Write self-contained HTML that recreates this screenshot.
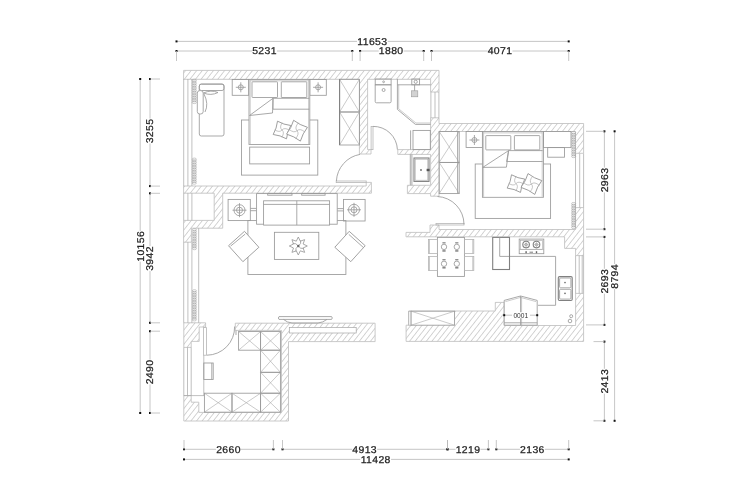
<!DOCTYPE html>
<html><head><meta charset="utf-8"><style>
html,body{margin:0;padding:0;background:#fff;}
svg{display:block;filter:grayscale(1);}
.w{fill:url(#h);stroke:#bdbdbd;stroke-width:0.8;}
.wo{stroke:#bdbdbd;stroke-width:0.8;}
.wo2{fill:#fff;stroke:#a5a5a5;stroke-width:0.7;}
.f{fill:none;stroke:#999;stroke-width:0.85;}
.ch{fill:none;stroke:#b5b5b5;stroke-width:0.8;}
.fk{fill:none;stroke:#808080;stroke-width:1.1;}
.fx{fill:none;stroke:#a8a8a8;stroke-width:0.6;}
.ff{fill:#fff;stroke:#999;stroke-width:0.85;}
.wn{fill:none;stroke:#a5a5a5;stroke-width:0.7;}
.cz{fill:none;stroke:#9a9a9a;stroke-width:0.5;}
.d{stroke:#b8b8b8;stroke-width:0.8;}
.dt{fill:#111;}
.dk{fill:#666;}
.kn{fill:#fff;}
.t{font-family:"Liberation Sans",sans-serif;font-size:9.85px;fill:#1e1e1e;text-anchor:middle;letter-spacing:0.35px;text-rendering:geometricPrecision;stroke:#1e1e1e;stroke-width:0.25px;}
.t2{font-family:"Liberation Sans",sans-serif;font-size:6.6px;fill:#333;text-anchor:middle;}
</style></head><body>
<svg width="740" height="500" viewBox="0 0 740 500">
<defs><pattern id="h" patternUnits="userSpaceOnUse" width="4.4" height="4.4" patternTransform="rotate(38)"><line x1="0" y1="-1" x2="0" y2="5.4" stroke="#959595" stroke-width="0.8"/></pattern></defs>
<rect width="740" height="500" fill="#fff"/>
<line class="d" x1="176.5" y1="41.4" x2="568.7" y2="41.4"/>
<rect class="dt" x="175.5" y="40.4" width="2" height="2"/>
<rect class="dt" x="567.7" y="40.4" width="2" height="2"/>
<rect class="kn" x="357.02" y="38.9" width="30.75" height="5"/>
<text transform="translate(372.4 41.4) scale(1.06 1)" x="0" y="3.45" class="t">11653</text>
<line class="d" x1="176.5" y1="51" x2="352.3" y2="51"/>
<rect class="dt" x="175.5" y="50" width="2" height="2"/>
<rect class="dt" x="351.3" y="50" width="2" height="2"/>
<line class="d" x1="176.5" y1="51" x2="176.5" y2="61"/>
<line class="d" x1="352.3" y1="51" x2="352.3" y2="61"/>
<rect class="kn" x="252.05" y="48.5" width="24.9" height="5"/>
<text transform="translate(264.5 51) scale(1.06 1)" x="0" y="3.45" class="t">5231</text>
<line class="d" x1="360.1" y1="51" x2="423.7" y2="51"/>
<rect class="dt" x="359.1" y="50" width="2" height="2"/>
<rect class="dt" x="422.7" y="50" width="2" height="2"/>
<line class="d" x1="360.1" y1="51" x2="360.1" y2="61"/>
<line class="d" x1="423.7" y1="51" x2="423.7" y2="61"/>
<rect class="kn" x="378.75" y="48.5" width="24.9" height="5"/>
<text transform="translate(391.2 51) scale(1.06 1)" x="0" y="3.45" class="t">1880</text>
<line class="d" x1="431.5" y1="51" x2="568.7" y2="51"/>
<rect class="dt" x="430.5" y="50" width="2" height="2"/>
<rect class="dt" x="567.7" y="50" width="2" height="2"/>
<line class="d" x1="431.5" y1="51" x2="431.5" y2="61"/>
<line class="d" x1="568.7" y1="51" x2="568.7" y2="61"/>
<rect class="kn" x="487.55" y="48.5" width="24.9" height="5"/>
<text transform="translate(500 51) scale(1.06 1)" x="0" y="3.45" class="t">4071</text>
<line class="d" x1="184" y1="449.3" x2="273.4" y2="449.3"/>
<rect class="dt" x="183" y="448.3" width="2" height="2"/>
<rect class="dt" x="272.4" y="448.3" width="2" height="2"/>
<line class="d" x1="184" y1="440" x2="184" y2="449.3"/>
<line class="d" x1="273.4" y1="440" x2="273.4" y2="449.3"/>
<rect class="kn" x="216.05" y="446.8" width="24.9" height="5"/>
<text transform="translate(228.5 449.3) scale(1.06 1)" x="0" y="3.45" class="t">2660</text>
<line class="d" x1="282.5" y1="449.3" x2="447.5" y2="449.3"/>
<rect class="dt" x="281.5" y="448.3" width="2" height="2"/>
<rect class="dt" x="446.5" y="448.3" width="2" height="2"/>
<line class="d" x1="282.5" y1="440" x2="282.5" y2="449.3"/>
<line class="d" x1="447.5" y1="440" x2="447.5" y2="449.3"/>
<rect class="kn" x="352.25" y="446.8" width="24.9" height="5"/>
<text transform="translate(364.7 449.3) scale(1.06 1)" x="0" y="3.45" class="t">4913</text>
<line class="d" x1="447.5" y1="449.3" x2="488.4" y2="449.3"/>
<rect class="dt" x="446.5" y="448.3" width="2" height="2"/>
<rect class="dt" x="487.4" y="448.3" width="2" height="2"/>
<line class="d" x1="447.5" y1="440" x2="447.5" y2="449.3"/>
<line class="d" x1="488.4" y1="440" x2="488.4" y2="449.3"/>
<rect class="kn" x="455.55" y="446.8" width="24.9" height="5"/>
<text transform="translate(468 449.3) scale(1.06 1)" x="0" y="3.45" class="t">1219</text>
<line class="d" x1="496.3" y1="449.3" x2="568.7" y2="449.3"/>
<rect class="dt" x="495.3" y="448.3" width="2" height="2"/>
<rect class="dt" x="567.7" y="448.3" width="2" height="2"/>
<line class="d" x1="496.3" y1="440" x2="496.3" y2="449.3"/>
<line class="d" x1="568.7" y1="440" x2="568.7" y2="449.3"/>
<rect class="kn" x="519.95" y="446.8" width="24.9" height="5"/>
<text transform="translate(532.4 449.3) scale(1.06 1)" x="0" y="3.45" class="t">2136</text>
<line class="d" x1="184" y1="459.4" x2="568.7" y2="459.4"/>
<rect class="dt" x="183" y="458.4" width="2" height="2"/>
<rect class="dt" x="567.7" y="458.4" width="2" height="2"/>
<rect class="kn" x="360.32" y="456.9" width="30.75" height="5"/>
<text transform="translate(375.7 459.4) scale(1.06 1)" x="0" y="3.45" class="t">11428</text>
<line class="d" x1="140.2" y1="79" x2="140.2" y2="413"/>
<rect class="dt" x="139.2" y="78" width="2" height="2"/>
<rect class="dt" x="139.2" y="412" width="2" height="2"/>
<rect class="kn" x="137.7" y="230.93" width="5" height="30.75"/>
<text transform="translate(140.2 246.3) rotate(-90) scale(1.06 1)" x="0" y="3.45" class="t">10156</text>
<line class="d" x1="150" y1="79" x2="150" y2="186.1"/>
<rect class="dt" x="149" y="78" width="2" height="2"/>
<rect class="dt" x="149" y="185.1" width="2" height="2"/>
<line class="d" x1="150" y1="79" x2="160" y2="79"/>
<line class="d" x1="150" y1="186.1" x2="160" y2="186.1"/>
<rect class="kn" x="147.5" y="118.55" width="5" height="24.9"/>
<text transform="translate(150 131) rotate(-90) scale(1.06 1)" x="0" y="3.45" class="t">3255</text>
<line class="d" x1="150" y1="193.3" x2="150" y2="322.8"/>
<rect class="dt" x="149" y="192.3" width="2" height="2"/>
<rect class="dt" x="149" y="321.8" width="2" height="2"/>
<line class="d" x1="150" y1="193.3" x2="160" y2="193.3"/>
<line class="d" x1="150" y1="322.8" x2="160" y2="322.8"/>
<rect class="kn" x="147.5" y="246.05" width="5" height="24.9"/>
<text transform="translate(150 258.5) rotate(-90) scale(1.06 1)" x="0" y="3.45" class="t">3942</text>
<line class="d" x1="150" y1="331.2" x2="150" y2="413"/>
<rect class="dt" x="149" y="330.2" width="2" height="2"/>
<rect class="dt" x="149" y="412" width="2" height="2"/>
<line class="d" x1="150" y1="331.2" x2="160" y2="331.2"/>
<line class="d" x1="150" y1="413" x2="160" y2="413"/>
<rect class="kn" x="147.5" y="359.55" width="5" height="24.9"/>
<text transform="translate(150 372) rotate(-90) scale(1.06 1)" x="0" y="3.45" class="t">2490</text>
<line class="d" x1="614.6" y1="131.3" x2="614.6" y2="420.8"/>
<rect class="dt" x="613.6" y="130.3" width="2" height="2"/>
<rect class="dt" x="613.6" y="419.8" width="2" height="2"/>
<rect class="kn" x="612.1" y="263.95" width="5" height="24.9"/>
<text transform="translate(614.6 276.4) rotate(-90) scale(1.06 1)" x="0" y="3.45" class="t">8794</text>
<line class="d" x1="604.4" y1="131.3" x2="604.4" y2="229.2"/>
<rect class="dt" x="603.4" y="130.3" width="2" height="2"/>
<rect class="dt" x="603.4" y="228.2" width="2" height="2"/>
<line class="d" x1="586" y1="131.3" x2="604.4" y2="131.3"/>
<line class="d" x1="586" y1="229.2" x2="604.4" y2="229.2"/>
<rect class="kn" x="601.9" y="167.55" width="5" height="24.9"/>
<text transform="translate(604.4 180) rotate(-90) scale(1.06 1)" x="0" y="3.45" class="t">2963</text>
<line class="d" x1="604.4" y1="236.9" x2="604.4" y2="324.9"/>
<rect class="dt" x="603.4" y="235.9" width="2" height="2"/>
<rect class="dt" x="603.4" y="323.9" width="2" height="2"/>
<line class="d" x1="586" y1="236.9" x2="604.4" y2="236.9"/>
<line class="d" x1="586" y1="324.9" x2="604.4" y2="324.9"/>
<rect class="kn" x="601.9" y="268.75" width="5" height="24.9"/>
<text transform="translate(604.4 281.2) rotate(-90) scale(1.06 1)" x="0" y="3.45" class="t">2693</text>
<line class="d" x1="604.4" y1="341.6" x2="604.4" y2="420.8"/>
<rect class="dt" x="603.4" y="340.6" width="2" height="2"/>
<rect class="dt" x="603.4" y="419.8" width="2" height="2"/>
<line class="d" x1="593.5" y1="341.6" x2="604.4" y2="341.6"/>
<line class="d" x1="593.5" y1="420.8" x2="604.4" y2="420.8"/>
<rect class="kn" x="601.9" y="368.75" width="5" height="24.9"/>
<text transform="translate(604.4 381.2) rotate(-90) scale(1.06 1)" x="0" y="3.45" class="t">2413</text>
<polygon class="w" points="183.6,70.4 439,70.4 439,92 430.6,92 430.6,79.3 367.6,79.3 367.6,149.6 371,149.6 371,154 359.4,154 359.4,79.3 183.6,79.3"/>
<polygon class="w" points="430.6,117.8 439,117.8 439,123.5 583.6,123.5 583.6,153.3 575.5,153.3 575.5,131.5 439,131.5 439,196.2 430.6,196.2 430.6,193.6 407.4,193.6 407.4,185.3 430.6,185.3 430.6,154.4 397.8,154.4 397.8,149.6 430.6,149.6"/>
<polygon class="w" points="183.6,186 366.2,186 366.2,182.4 371.4,182.4 371.4,193.2 222.7,193.2 222.7,228.2 191.4,228.2 191.4,242.2 183.6,242.2 183.6,220.4 214.2,220.4 214.2,193.2 183.6,193.2"/>
<polygon class="w" points="575.5,207.6 583.6,207.6 583.6,255.6 575.6,255.6 575.6,248.4 564.6,248.4 564.6,236.8 406,236.8 406,232.4 430,232.4 430,225 439,225 439,229.5 575.5,229.5"/>
<polygon class="w" points="575.6,293.4 583.6,293.4 583.6,341.4 406.1,341.4 406.1,325.2 408.8,325.2 408.8,311 495.3,311 495.3,302.4 504.2,302.4 504.2,325.5 575.6,325.5"/>
<polygon class="w" points="235.3,323.2 375.1,323.2 375.1,341.6 288.5,341.6 288.5,421 183.8,421 183.8,395.6 191.2,395.6 191.2,402.2 198.8,402.2 198.8,412.4 281.5,412.4 281.5,330.4 235.3,330.4"/>
<polygon class="w" points="183.8,322.8 205.6,322.8 205.6,327 199.2,327 199.2,341.4 191.2,341.4 191.2,347.4 183.8,347.4"/>
<line class="wn" x1="183.8" y1="347.4" x2="183.8" y2="395.6"/>
<line class="wn" x1="187.5" y1="347.4" x2="187.5" y2="395.6"/>
<line class="wn" x1="191.2" y1="347.4" x2="191.2" y2="395.6"/>
<line class="wn" x1="183.8" y1="395.6" x2="204" y2="395.6"/>
<line class="wn" x1="203.8" y1="355.2" x2="203.8" y2="395.6"/>
<line class="wn" x1="187.9" y1="79" x2="187.9" y2="186"/>
<line class="wn" x1="187.9" y1="193.2" x2="187.9" y2="220.4"/>
<line class="wn" x1="187.9" y1="242.2" x2="187.9" y2="322.8"/>
<line class="wn" x1="191.9" y1="79" x2="191.9" y2="186"/>
<line class="wn" x1="191.9" y1="193.2" x2="191.9" y2="220.4"/>
<line class="wn" x1="191.9" y1="242.2" x2="191.9" y2="322.8"/>
<line class="wn" x1="183.7" y1="79" x2="183.7" y2="186"/>
<line class="wn" x1="183.7" y1="193.2" x2="183.7" y2="220.4"/>
<line class="wn" x1="183.7" y1="242.2" x2="183.7" y2="322.8"/>
<line class="wn" x1="198.7" y1="228.2" x2="198.7" y2="322.8"/>
<line class="wn" x1="575.5" y1="153.6" x2="575.5" y2="207.6"/>
<line class="wn" x1="579.7" y1="153.6" x2="579.7" y2="207.6"/>
<line class="wn" x1="583.6" y1="153.6" x2="583.6" y2="207.6"/>
<line class="wn" x1="575.6" y1="255.6" x2="575.6" y2="293.4"/>
<line class="wn" x1="579.2" y1="255.6" x2="579.2" y2="293.4"/>
<line class="wn" x1="582.2" y1="255.6" x2="582.2" y2="293.4"/>
<line class="wn" x1="583.6" y1="255.6" x2="583.6" y2="293.4"/>
<line class="wn" x1="430.9" y1="92" x2="430.9" y2="117.8"/>
<line class="wn" x1="435" y1="92" x2="435" y2="117.8"/>
<line class="wn" x1="438.9" y1="92" x2="438.9" y2="117.8"/>
<rect class="wo2" x="289.3" y="327.5" width="66.9" height="5.5"/>
<g class="cz"><ellipse cx="194.3" cy="80.35" rx="2.1" ry="1.19"/><ellipse cx="194.3" cy="82.05" rx="2.1" ry="1.19"/><ellipse cx="194.3" cy="83.75" rx="2.1" ry="1.19"/><ellipse cx="194.3" cy="85.45" rx="2.1" ry="1.19"/><ellipse cx="194.3" cy="87.15" rx="2.1" ry="1.19"/><ellipse cx="194.3" cy="88.85" rx="2.1" ry="1.19"/><ellipse cx="194.3" cy="90.55" rx="2.1" ry="1.19"/><ellipse cx="194.3" cy="92.25" rx="2.1" ry="1.19"/><ellipse cx="194.3" cy="93.95" rx="2.1" ry="1.19"/><ellipse cx="194.3" cy="95.65" rx="2.1" ry="1.19"/><ellipse cx="194.3" cy="97.35" rx="2.1" ry="1.19"/><ellipse cx="194.3" cy="99.05" rx="2.1" ry="1.19"/><ellipse cx="194.3" cy="100.75" rx="2.1" ry="1.19"/><ellipse cx="194.3" cy="102.45" rx="2.1" ry="1.19"/></g>
<g class="cz"><ellipse cx="194.3" cy="159.25" rx="2.1" ry="1.19"/><ellipse cx="194.3" cy="160.95" rx="2.1" ry="1.19"/><ellipse cx="194.3" cy="162.65" rx="2.1" ry="1.19"/><ellipse cx="194.3" cy="164.35" rx="2.1" ry="1.19"/><ellipse cx="194.3" cy="166.05" rx="2.1" ry="1.19"/><ellipse cx="194.3" cy="167.75" rx="2.1" ry="1.19"/><ellipse cx="194.3" cy="169.45" rx="2.1" ry="1.19"/><ellipse cx="194.3" cy="171.15" rx="2.1" ry="1.19"/><ellipse cx="194.3" cy="172.85" rx="2.1" ry="1.19"/><ellipse cx="194.3" cy="174.55" rx="2.1" ry="1.19"/><ellipse cx="194.3" cy="176.25" rx="2.1" ry="1.19"/><ellipse cx="194.3" cy="177.95" rx="2.1" ry="1.19"/><ellipse cx="194.3" cy="179.65" rx="2.1" ry="1.19"/><ellipse cx="194.3" cy="181.35" rx="2.1" ry="1.19"/><ellipse cx="194.3" cy="183.05" rx="2.1" ry="1.19"/></g>
<g class="cz"><ellipse cx="194.4" cy="229.85" rx="2.1" ry="1.19"/><ellipse cx="194.4" cy="231.55" rx="2.1" ry="1.19"/><ellipse cx="194.4" cy="233.25" rx="2.1" ry="1.19"/><ellipse cx="194.4" cy="234.95" rx="2.1" ry="1.19"/><ellipse cx="194.4" cy="236.65" rx="2.1" ry="1.19"/><ellipse cx="194.4" cy="238.35" rx="2.1" ry="1.19"/><ellipse cx="194.4" cy="240.05" rx="2.1" ry="1.19"/><ellipse cx="194.4" cy="241.75" rx="2.1" ry="1.19"/><ellipse cx="194.4" cy="243.45" rx="2.1" ry="1.19"/><ellipse cx="194.4" cy="245.15" rx="2.1" ry="1.19"/><ellipse cx="194.4" cy="246.85" rx="2.1" ry="1.19"/><ellipse cx="194.4" cy="248.55" rx="2.1" ry="1.19"/></g>
<g class="cz"><ellipse cx="194.4" cy="290.85" rx="2.1" ry="1.19"/><ellipse cx="194.4" cy="292.55" rx="2.1" ry="1.19"/><ellipse cx="194.4" cy="294.25" rx="2.1" ry="1.19"/><ellipse cx="194.4" cy="295.95" rx="2.1" ry="1.19"/><ellipse cx="194.4" cy="297.65" rx="2.1" ry="1.19"/><ellipse cx="194.4" cy="299.35" rx="2.1" ry="1.19"/><ellipse cx="194.4" cy="301.05" rx="2.1" ry="1.19"/><ellipse cx="194.4" cy="302.75" rx="2.1" ry="1.19"/><ellipse cx="194.4" cy="304.45" rx="2.1" ry="1.19"/><ellipse cx="194.4" cy="306.15" rx="2.1" ry="1.19"/><ellipse cx="194.4" cy="307.85" rx="2.1" ry="1.19"/><ellipse cx="194.4" cy="309.55" rx="2.1" ry="1.19"/><ellipse cx="194.4" cy="311.25" rx="2.1" ry="1.19"/><ellipse cx="194.4" cy="312.95" rx="2.1" ry="1.19"/><ellipse cx="194.4" cy="314.65" rx="2.1" ry="1.19"/><ellipse cx="194.4" cy="316.35" rx="2.1" ry="1.19"/><ellipse cx="194.4" cy="318.05" rx="2.1" ry="1.19"/><ellipse cx="194.4" cy="319.75" rx="2.1" ry="1.19"/></g>
<g class="cz"><ellipse cx="573.6" cy="132.65" rx="2.1" ry="1.19"/><ellipse cx="573.6" cy="134.35" rx="2.1" ry="1.19"/><ellipse cx="573.6" cy="136.05" rx="2.1" ry="1.19"/><ellipse cx="573.6" cy="137.75" rx="2.1" ry="1.19"/><ellipse cx="573.6" cy="139.45" rx="2.1" ry="1.19"/><ellipse cx="573.6" cy="141.15" rx="2.1" ry="1.19"/><ellipse cx="573.6" cy="142.85" rx="2.1" ry="1.19"/><ellipse cx="573.6" cy="144.55" rx="2.1" ry="1.19"/><ellipse cx="573.6" cy="146.25" rx="2.1" ry="1.19"/><ellipse cx="573.6" cy="147.95" rx="2.1" ry="1.19"/><ellipse cx="573.6" cy="149.65" rx="2.1" ry="1.19"/><ellipse cx="573.6" cy="151.35" rx="2.1" ry="1.19"/><ellipse cx="573.6" cy="153.05" rx="2.1" ry="1.19"/><ellipse cx="573.6" cy="154.75" rx="2.1" ry="1.19"/><ellipse cx="573.6" cy="156.45" rx="2.1" ry="1.19"/></g>
<g class="cz"><ellipse cx="573.6" cy="203.65" rx="2.1" ry="1.19"/><ellipse cx="573.6" cy="205.35" rx="2.1" ry="1.19"/><ellipse cx="573.6" cy="207.05" rx="2.1" ry="1.19"/><ellipse cx="573.6" cy="208.75" rx="2.1" ry="1.19"/><ellipse cx="573.6" cy="210.45" rx="2.1" ry="1.19"/><ellipse cx="573.6" cy="212.15" rx="2.1" ry="1.19"/><ellipse cx="573.6" cy="213.85" rx="2.1" ry="1.19"/><ellipse cx="573.6" cy="215.55" rx="2.1" ry="1.19"/><ellipse cx="573.6" cy="217.25" rx="2.1" ry="1.19"/><ellipse cx="573.6" cy="218.95" rx="2.1" ry="1.19"/><ellipse cx="573.6" cy="220.65" rx="2.1" ry="1.19"/><ellipse cx="573.6" cy="222.35" rx="2.1" ry="1.19"/><ellipse cx="573.6" cy="224.05" rx="2.1" ry="1.19"/><ellipse cx="573.6" cy="225.75" rx="2.1" ry="1.19"/><ellipse cx="573.6" cy="227.45" rx="2.1" ry="1.19"/></g>
<rect class="ff" x="199.3" y="84.1" width="24.7" height="51.9" rx="2"/>
<rect class="f" x="199.3" y="84.1" width="24.7" height="6.4" rx="2"/>
<rect class="ff" x="197.3" y="90.6" width="5.9" height="23.4" rx="2.5"/>
<path class="f" d="M203.5,93 Q211,89.5 218,92.5 Q211,96 203.5,93 Z"/>
<path class="f" d="M204,94 Q209,104 205,112"/>
<rect class="f" x="232.2" y="79.5" width="16.5" height="15.8"/>
<circle class="f" cx="240.8" cy="87.3" r="2.5"/>
<line class="f" x1="235.8" y1="87.3" x2="245.8" y2="87.3"/>
<line class="f" x1="240.8" y1="82.3" x2="240.8" y2="92.3"/>
<rect class="f" x="309.8" y="79.5" width="16.5" height="15.8"/>
<circle class="f" cx="318.1" cy="87.3" r="2.5"/>
<line class="f" x1="313.1" y1="87.3" x2="323.1" y2="87.3"/>
<line class="f" x1="318.1" y1="82.3" x2="318.1" y2="92.3"/>
<rect class="f" x="241.5" y="120" width="76.3" height="55.1"/>
<rect class="ff" x="249" y="79.5" width="60.8" height="65"/>
<line class="fx" x1="250.2" y1="80" x2="250.2" y2="144"/>
<line class="fx" x1="308.6" y1="80" x2="308.6" y2="144"/>
<rect class="f" x="252" y="81.8" width="25.5" height="15.7" rx="0.6"/>
<rect class="f" x="281.3" y="81.8" width="25.5" height="15.7" rx="0.6"/>
<line class="fx" x1="250.3" y1="80.8" x2="308.6" y2="80.8"/>
<line class="f" x1="273" y1="98.3" x2="309.3" y2="98.3"/>
<polyline class="f" points="273,98.3 273,109.2 309.3,109.2"/>
<polyline class="f" points="249.5,115.5 273,98.3 272.5,113 249.5,115.5"/>
<g transform="translate(282 130) rotate(18)">
<path class="ff" d="M-7,-7 Q0,-5.5 7,-7 Q5.5,0 7,7 Q0,5.5 -7,7 Q-5.5,0 -7,-7 Z"/>
<path class="fx" d="M0,0 Q-3.5,-1.4 -2.1,-7"/>
<path class="fx" d="M0,0 Q1.4,-3.5 7,-2.1"/>
<path class="fx" d="M0,0 Q3.5,1.4 2.1,7"/>
<path class="fx" d="M0,0 Q-1.4,3.5 -7,2.1"/>
</g>
<g transform="translate(297 130.7) rotate(27)">
<path class="ff" d="M-7.75,-7.75 Q0,-6.25 7.75,-7.75 Q6.25,0 7.75,7.75 Q0,6.25 -7.75,7.75 Q-6.25,0 -7.75,-7.75 Z"/>
<path class="fx" d="M0,0 Q-3.88,-1.55 -2.32,-7.75"/>
<path class="fx" d="M0,0 Q1.55,-3.88 7.75,-2.32"/>
<path class="fx" d="M0,0 Q3.88,1.55 2.32,7.75"/>
<path class="fx" d="M0,0 Q-1.55,3.88 -7.75,2.32"/>
</g>
<rect class="f" x="249.7" y="147.1" width="59.9" height="16.8"/>
<rect class="f" x="339.6" y="79.3" width="19.8" height="32.7"/>
<line class="fx" x1="339.6" y1="79.3" x2="359.4" y2="112"/>
<line class="fx" x1="339.6" y1="112" x2="359.4" y2="79.3"/>
<rect class="f" x="339.6" y="112" width="19.8" height="33"/>
<line class="fx" x1="339.6" y1="112" x2="359.4" y2="145"/>
<line class="fx" x1="339.6" y1="145" x2="359.4" y2="112"/>
<line class="fk" x1="339.6" y1="79.3" x2="339.6" y2="145"/>
<rect class="ch" x="336.2" y="181" width="30" height="1.6"/>
<path class="f" d="M336.4,181 A28.6,28.6 0 0 1 360,154.4"/>
<rect class="f" x="375.2" y="79" width="15.9" height="5.8"/>
<circle class="f" cx="383.6" cy="81.8" r="0.9"/>
<path class="f" d="M375.2,84.8 L391.1,84.8 L391.1,101.5 Q391.1,102.8 389.8,102.8 L376.5,102.8 Q375.2,102.8 375.2,101.5 Z"/>
<circle class="f" cx="383.6" cy="90" r="1.5"/>
<polyline class="f" points="397.4,79 397.4,109.4 415.4,124.4 430.6,124.4"/>
<polyline class="fx" points="398.7,84.8 398.7,108.8 415.9,123 430.6,123"/>
<line class="f" x1="397.4" y1="84.8" x2="430.6" y2="84.8"/>
<rect class="f" x="411.8" y="79" width="7.8" height="5.8"/>
<circle class="f" cx="415.7" cy="81.8" r="1.6"/>
<rect x="411.5" y="90.8" width="6.3" height="6" fill="#d2d2d2" stroke="#999" stroke-width="0.6"/>
<line class="f" x1="414.6" y1="84.8" x2="414.6" y2="90.8"/>
<rect class="f" x="413" y="130.4" width="17.3" height="19.2"/>
<line class="f" x1="410.6" y1="130.4" x2="410.6" y2="149.6"/>
<rect class="ch" x="371.1" y="126.4" width="1.9" height="23.2"/>
<path class="f" d="M373,126.4 A24,24 0 0 1 397.4,149.6"/>
<line class="f" x1="410.3" y1="154.4" x2="410.3" y2="185.3"/>
<line class="f" x1="411.9" y1="154.4" x2="411.9" y2="185.3"/>
<rect class="fk" x="414" y="158" width="15" height="23.4"/>
<rect class="fx" x="415.2" y="159.2" width="12.6" height="21"/>
<circle class="dk" cx="421" cy="170" r="0.9"/>
<rect x="426.6" y="168.8" width="3" height="2.4" fill="#555"/>
<rect class="f" x="439.2" y="131.5" width="20" height="30.9"/>
<line class="fx" x1="439.2" y1="131.5" x2="459.2" y2="162.4"/>
<line class="fx" x1="439.2" y1="162.4" x2="459.2" y2="131.5"/>
<rect class="f" x="439.2" y="162.4" width="20" height="31.2"/>
<line class="fx" x1="439.2" y1="162.4" x2="459.2" y2="193.6"/>
<line class="fx" x1="439.2" y1="193.6" x2="459.2" y2="162.4"/>
<line class="f" x1="457.6" y1="131.5" x2="457.6" y2="193.6"/>
<rect class="f" x="466.1" y="131.5" width="16.3" height="16"/>
<circle class="f" cx="474.4" cy="140" r="2.5"/>
<line class="f" x1="469.4" y1="140" x2="479.4" y2="140"/>
<line class="f" x1="474.4" y1="135" x2="474.4" y2="145"/>
<rect class="f" x="475.2" y="164" width="75.4" height="54.4"/>
<rect class="ff" x="482.4" y="131.5" width="61" height="65.8"/>
<line class="fx" x1="483.6" y1="132" x2="483.6" y2="196.8"/>
<line class="fx" x1="542.2" y1="132" x2="542.2" y2="196.8"/>
<rect class="f" x="485.8" y="135.6" width="25" height="14.3" rx="0.6"/>
<rect class="f" x="514.4" y="135.6" width="25.4" height="14.3" rx="0.6"/>
<line class="fx" x1="483.6" y1="132.9" x2="542.2" y2="132.9"/>
<line class="f" x1="508.6" y1="150.6" x2="542.6" y2="150.6"/>
<polyline class="f" points="508.6,150.6 506.6,161.5 542.6,161.5"/>
<polyline class="f" points="482.8,167.4 508.6,150.6 506.4,167.2 482.8,167.4"/>
<g transform="translate(516 183.6) rotate(18)">
<path class="ff" d="M-7,-7 Q0,-5.5 7,-7 Q5.5,0 7,7 Q0,5.5 -7,7 Q-5.5,0 -7,-7 Z"/>
<path class="fx" d="M0,0 Q-3.5,-1.4 -2.1,-7"/>
<path class="fx" d="M0,0 Q1.4,-3.5 7,-2.1"/>
<path class="fx" d="M0,0 Q3.5,1.4 2.1,7"/>
<path class="fx" d="M0,0 Q-1.4,3.5 -7,2.1"/>
</g>
<g transform="translate(531.4 184) rotate(27)">
<path class="ff" d="M-7.75,-7.75 Q0,-6.25 7.75,-7.75 Q6.25,0 7.75,7.75 Q0,6.25 -7.75,7.75 Q-6.25,0 -7.75,-7.75 Z"/>
<path class="fx" d="M0,0 Q-3.88,-1.55 -2.32,-7.75"/>
<path class="fx" d="M0,0 Q1.55,-3.88 7.75,-2.32"/>
<path class="fx" d="M0,0 Q3.88,1.55 2.32,7.75"/>
<path class="fx" d="M0,0 Q-1.55,3.88 -7.75,2.32"/>
</g>
<rect class="f" x="543.4" y="131.5" width="27.6" height="16.1"/>
<rect class="f" x="547.7" y="147.6" width="16.8" height="9.6"/>
<rect class="ch" x="436" y="223.5" width="28" height="1.5"/>
<path class="f" d="M464,224.2 A28,28 0 0 0 437.5,196.5"/>
<rect class="f" x="228.1" y="199.4" width="22.2" height="21.2"/>
<circle class="f" cx="239.5" cy="210.2" r="3"/>
<circle class="f" cx="239.5" cy="210.2" r="5.5"/>
<line class="f" x1="232.5" y1="210.2" x2="246.5" y2="210.2"/>
<line class="f" x1="239.5" y1="203.2" x2="239.5" y2="217.2"/>
<rect class="f" x="343.5" y="199.4" width="21.6" height="21.6"/>
<circle class="f" cx="354" cy="209.8" r="3"/>
<circle class="f" cx="354" cy="209.8" r="5.5"/>
<line class="f" x1="347" y1="209.8" x2="361" y2="209.8"/>
<line class="f" x1="354" y1="202.8" x2="354" y2="216.8"/>
<line class="f" x1="250.3" y1="208.4" x2="256.6" y2="208.4"/>
<line class="f" x1="250.3" y1="210.7" x2="256.6" y2="210.7"/>
<line class="f" x1="337.2" y1="208.6" x2="343.5" y2="208.6"/>
<line class="f" x1="337.2" y1="210.9" x2="343.5" y2="210.9"/>
<rect class="f" x="247.9" y="220.6" width="98" height="53.9"/>
<rect class="ff" x="256.6" y="193.6" width="80.6" height="30.6"/>
<rect class="ff" x="263.6" y="200.8" width="66" height="24.3"/>
<line class="f" x1="263.6" y1="204.4" x2="329.6" y2="204.4"/>
<line class="f" x1="296.8" y1="200.8" x2="296.8" y2="225.1"/>
<rect class="f" x="267.7" y="193.4" width="24.3" height="1.8"/>
<rect class="f" x="301.7" y="193.4" width="23.4" height="1.8"/>
<rect class="ff" x="274.4" y="232.3" width="44.4" height="27.1"/>
<polygon class="ff" points="298.3,237 300.29,241.2 304.66,239.64 303.1,244.01 307.3,246 303.1,247.99 304.66,252.36 300.29,250.8 298.3,255 296.31,250.8 291.94,252.36 293.5,247.99 289.3,246 293.5,244.01 291.94,239.64 296.31,241.2"/>
<path class="f" d="M298.3,246 Q300.46,249.37 303.83,248.34"/>
<path class="f" d="M298.3,246 Q294.93,248.16 295.96,251.53"/>
<path class="f" d="M298.3,246 Q296.14,242.63 292.77,243.66"/>
<path class="f" d="M298.3,246 Q301.67,243.84 300.64,240.47"/>
<circle class="dk" cx="298.3" cy="246" r="1.2"/>
<rect class="ff" x="-10.75" y="-10.75" width="21.5" height="21.5" transform="translate(243.7 246.5) rotate(-42)"/>
<rect class="ff" x="-10.75" y="-10.75" width="21.5" height="21.5" transform="translate(350 246.5) rotate(42)"/>
<line class="f" x1="230.6" y1="246.1" x2="245.2" y2="234.1"/>
<line class="f" x1="348.8" y1="234.4" x2="363.5" y2="247.6"/>
<rect class="f" x="238.6" y="331.5" width="22" height="18.7"/>
<line class="fx" x1="238.6" y1="331.5" x2="260.6" y2="350.2"/>
<line class="fx" x1="238.6" y1="350.2" x2="260.6" y2="331.5"/>
<rect class="f" x="260.6" y="331.5" width="19.8" height="18.7"/>
<line class="fx" x1="260.6" y1="331.5" x2="280.4" y2="350.2"/>
<line class="fx" x1="260.6" y1="350.2" x2="280.4" y2="331.5"/>
<rect class="f" x="260.6" y="350.2" width="19.8" height="22.1"/>
<line class="fx" x1="260.6" y1="350.2" x2="280.4" y2="372.3"/>
<line class="fx" x1="260.6" y1="372.3" x2="280.4" y2="350.2"/>
<rect class="f" x="260.6" y="372.3" width="19.8" height="20.9"/>
<line class="fx" x1="260.6" y1="372.3" x2="280.4" y2="393.2"/>
<line class="fx" x1="260.6" y1="393.2" x2="280.4" y2="372.3"/>
<rect class="f" x="204.4" y="393.2" width="27.6" height="19"/>
<line class="fx" x1="204.4" y1="393.2" x2="232" y2="412.2"/>
<line class="fx" x1="204.4" y1="412.2" x2="232" y2="393.2"/>
<rect class="f" x="232" y="393.2" width="28.6" height="19"/>
<line class="fx" x1="232" y1="393.2" x2="260.6" y2="412.2"/>
<line class="fx" x1="232" y1="412.2" x2="260.6" y2="393.2"/>
<rect class="f" x="260.6" y="393.2" width="19.8" height="19"/>
<line class="fx" x1="260.6" y1="393.2" x2="280.4" y2="412.2"/>
<line class="fx" x1="260.6" y1="412.2" x2="280.4" y2="393.2"/>
<rect class="f" x="203.8" y="363" width="9.4" height="16.4"/>
<line class="f" x1="211.8" y1="363" x2="211.8" y2="379.4"/>
<rect class="ch" x="203.4" y="327.6" width="3.2" height="27.6"/>
<path class="f" d="M206.8,355.2 A28,28 0 0 0 234.6,326.5"/>
<line class="f" x1="236" y1="330.4" x2="236" y2="335"/>
<path class="f" d="M279,316.6 L331.6,316.6 Q333,318 331.6,319.4 L279,319.4 Q277.6,318 279,316.6 Z"/>
<path class="f" d="M283.5,319.4 Q287,322.6 292,323 L318,323 Q323,322.6 327,319.4"/>
<rect class="ff" x="437.4" y="237.4" width="27" height="39"/>
<rect class="ch" x="428.4" y="239.5" width="9" height="14"/>
<rect class="ch" x="428.4" y="256.5" width="9" height="14"/>
<rect class="ch" x="464.4" y="239.5" width="9.4" height="14"/>
<rect class="ch" x="464.4" y="256.5" width="9.4" height="14"/>
<line class="ch" x1="429.4" y1="239.5" x2="429.4" y2="253.5"/>
<line class="ch" x1="429.4" y1="256.5" x2="429.4" y2="270.5"/>
<line class="ch" x1="472.8" y1="239.5" x2="472.8" y2="253.5"/>
<line class="ch" x1="472.8" y1="256.5" x2="472.8" y2="270.5"/>
<circle class="f" cx="444" cy="246.9" r="2.7"/>
<rect x="442.4" y="242.3" width="3.2" height="1.1" fill="#777"/>
<rect x="442.4" y="250.4" width="3.2" height="1.1" fill="#555"/>
<circle class="f" cx="456.8" cy="246.9" r="2.7"/>
<rect x="455.2" y="242.3" width="3.2" height="1.1" fill="#777"/>
<rect x="455.2" y="250.4" width="3.2" height="1.1" fill="#555"/>
<circle class="f" cx="444" cy="263.8" r="2.7"/>
<rect x="442.4" y="259.2" width="3.2" height="1.1" fill="#777"/>
<rect x="442.4" y="267.3" width="3.2" height="1.1" fill="#555"/>
<circle class="f" cx="456.8" cy="263.8" r="2.7"/>
<rect x="455.2" y="259.2" width="3.2" height="1.1" fill="#777"/>
<rect x="455.2" y="267.3" width="3.2" height="1.1" fill="#555"/>
<polyline class="f" points="499.7,256.4 555.6,256.4 555.6,305.3 538,305.3"/>
<rect class="fk" x="492.7" y="237.4" width="16.8" height="32.1"/>
<line class="f" x1="499.7" y1="237.4" x2="499.7" y2="256.4"/>
<rect class="f" x="519.2" y="239.1" width="24.6" height="14.6"/>
<line class="fx" x1="519.2" y1="249.4" x2="543.8" y2="249.4"/>
<rect class="fx" x="520.4" y="240.3" width="22.2" height="9.1"/>
<circle class="fk" cx="526.1" cy="244.6" r="3.3"/>
<circle class="f" cx="526.1" cy="244.6" r="1.3"/>
<line class="fx" x1="523.8" y1="244.6" x2="528.4" y2="244.6"/>
<line class="fx" x1="526.1" y1="242.3" x2="526.1" y2="246.9"/>
<rect x="525.4" y="251.2" width="1.4" height="2" fill="#666"/>
<circle class="fk" cx="536.5" cy="244.6" r="3.3"/>
<circle class="f" cx="536.5" cy="244.6" r="1.3"/>
<line class="fx" x1="534.2" y1="244.6" x2="538.8" y2="244.6"/>
<line class="fx" x1="536.5" y1="242.3" x2="536.5" y2="246.9"/>
<rect x="535.8" y="251.2" width="1.4" height="2" fill="#666"/>
<rect x="529.5" y="251.6" width="3.5" height="1.3" fill="#999"/>
<rect class="fk" x="558.3" y="276.6" width="13.9" height="23.9" rx="1.2"/>
<rect class="f" x="559.6" y="278" width="11.3" height="9.8" rx="1"/>
<rect class="f" x="559.6" y="289.3" width="11.3" height="9.8" rx="1"/>
<circle class="dk" cx="565" cy="282.6" r="0.8"/>
<circle class="dk" cx="565" cy="293.4" r="0.8"/>
<polygon class="ff" points="504.2,325.2 504.2,300.4 520.6,296 537.2,300.4 537.2,325.2"/>
<polyline class="fx" points="505.4,301.6 520.6,297.4 536,301.6"/>
<line class="f" x1="520.6" y1="296" x2="520.6" y2="325.2"/>
<line class="fx" x1="521.6" y1="297.4" x2="521.6" y2="325.2"/>
<line class="f" x1="504.2" y1="322.8" x2="537.2" y2="322.8"/>
<line class="d" x1="504.2" y1="315.2" x2="537.2" y2="315.2"/>
<rect class="dt" x="503.2" y="314.2" width="2" height="2"/>
<rect class="dt" x="536.2" y="314.2" width="2" height="2"/>
<rect class="kn" x="512" y="312.2" width="18" height="6"/>
<text x="520.8" y="317.6" class="t2">0001</text>
<rect class="wo2" x="408.8" y="311.2" width="2.3" height="14"/>
<rect class="ff" x="411.1" y="311.2" width="43.5" height="14"/>
<line class="fx" x1="411.1" y1="311.2" x2="454.6" y2="325.2"/>
<line class="fx" x1="411.1" y1="325.2" x2="454.6" y2="311.2"/>
<circle class="f" cx="571.2" cy="316.2" r="1.5"/>
<circle class="f" cx="570" cy="321" r="1.8"/>
</svg>
</body></html>
